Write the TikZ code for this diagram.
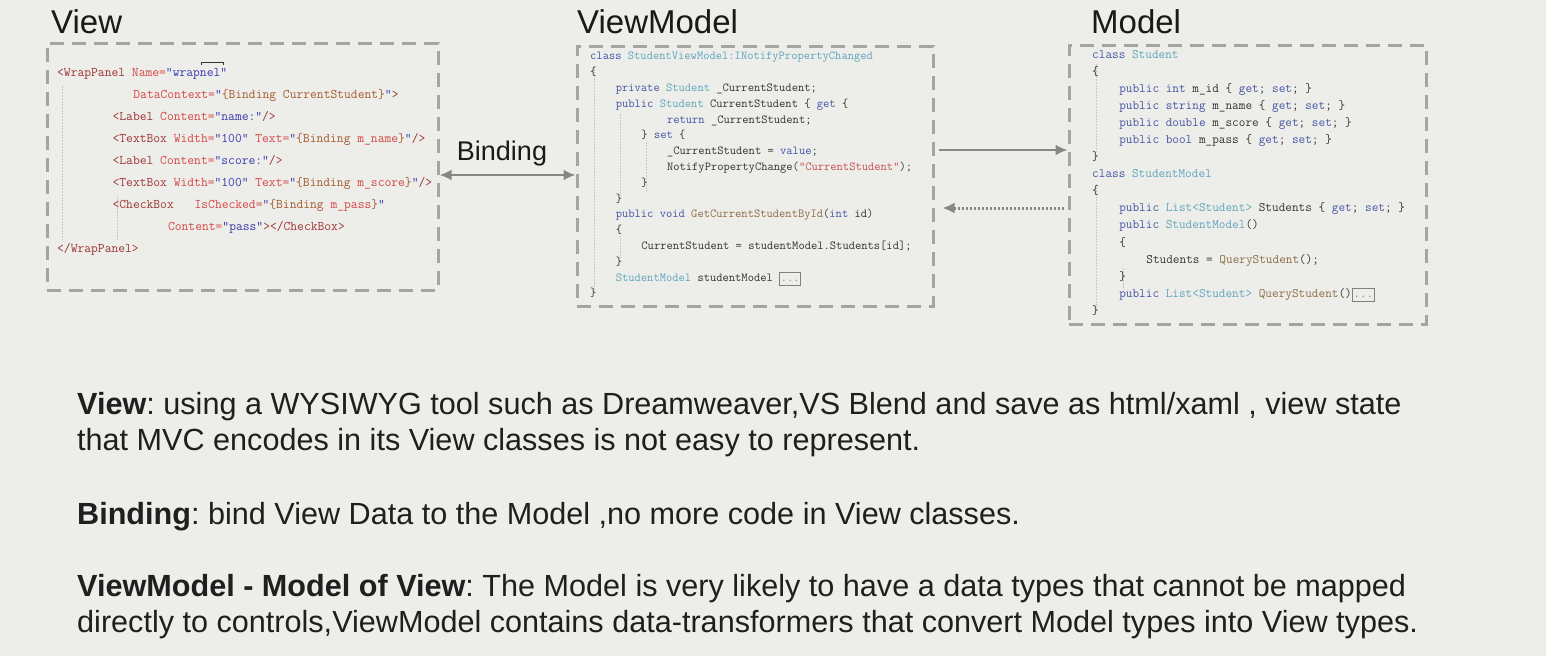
\documentclass[tikz,border=0pt]{standalone}
\usepackage{fontspec}
\setmainfont{Liberation Sans}
\usetikzlibrary{arrows.meta,positioning,calc}
\definecolor{slidebg}{HTML}{EDEDE9}
\definecolor{boxgray}{HTML}{A4A4A4}
\definecolor{arrowgray}{HTML}{878787}
\definecolor{codedark}{HTML}{333333}
\definecolor{cskw}{HTML}{4655A6}
\definecolor{csty}{HTML}{5FA6BD}
\definecolor{csstr}{HTML}{C55050}
\definecolor{csfn}{HTML}{8C6D45}
\definecolor{xmtag}{HTML}{9E3434}
\definecolor{xmattr}{HTML}{D64545}
\definecolor{xmval}{HTML}{3A3AB0}
\definecolor{xmext}{HTML}{A65A30}
\newcommand\ind[1]{\hspace*{#1\dimexpr0.525em\relax}}
\newcommand\ckw[1]{\textcolor{cskw}{#1}}
\newcommand\cty[1]{\textcolor{csty}{#1}}
\newcommand\cstr[1]{\textcolor{csstr}{#1}}
\newcommand\cfn[1]{\textcolor{csfn}{#1}}
\newcommand\xtag[1]{\textcolor{xmtag}{#1}}
\newcommand\xattr[1]{\textcolor{xmattr}{#1}}
\newcommand\xval[1]{\textcolor{xmval}{#1}}
\newcommand\xext[1]{\textcolor{xmext}{#1}}
\newcommand\morebox{{\fboxsep=0.8pt\fboxrule=0.8pt\color{black!50}\fbox{\vphantom{Ay}...}}}
\tikzset{
  codebox/.style={draw=boxgray, line width=3pt, dash pattern=on 14pt off 8pt, inner sep=0pt},
  codetext/.style={anchor=north west, inner sep=0pt, align=left, text=codedark},
  title/.style={anchor=base west, inner sep=0pt, font=\fontsize{33}{40}\selectfont, text=black!90},
  note/.style={anchor=base west, inner sep=0pt, font=\fontsize{30.6}{36}\selectfont\frenchspacing, text=black!88},
  bindlabel/.style={anchor=base, inner sep=0pt, font=\fontsize{27}{32}\selectfont, text=black!90},
  arrow/.style={line width=2.5pt, draw=arrowgray, -{Latex[length=12pt,width=11pt]}},
  biarrow/.style={arrow, {Latex[length=12pt,width=11pt]}-{Latex[length=12pt,width=11pt]}},
  dotarrow/.style={arrow, line width=3pt, dash pattern=on 2pt off 2pt},
  guide/.style={draw=black!22, line width=0.8pt, dash pattern=on 1.5pt off 1.5pt}
}

\begin{document}
\begin{tikzpicture}[x=1pt, y=-1pt]
  \useasboundingbox (0,0) rectangle (1546,656);
  \fill[slidebg] (0,0) rectangle (1546,656);

  % titles
  \node[title] (viewtitle) at (51,33) {View};
  \node[title] (vmtitle) at (577,33) {ViewModel};
  \node[title] (mtitle) at (1091,33) {Model};

  % dashed code boxes
  \node[codebox, minimum width=391pt, minimum height=247pt] (viewbox) at (242.5,166.5) {};
  \node[codebox, minimum width=356pt, minimum height=260pt] (vmbox) at (755,176) {};
  \node[codebox, minimum width=357pt, minimum height=279pt] (mbox) at (1247.5,184.5) {};

  % indent guides
  \draw[guide] (62,86) -- (62,240);
  \draw[guide] (117,196) -- (117,240);
  \draw[guide] (594,66) -- (594,290);
  \draw[guide] (620,114) -- (620,196);
  \draw[guide] (646,142) -- (646,192);
  \draw[guide] (620,236) -- (620,258);
  \draw[guide] (1096,64) -- (1096,152);
  \draw[guide] (1096,184) -- (1096,308);
  \draw[guide] (1123,268) -- (1123,290);
  \draw[codedark, line width=0.8pt] (201,65) -- (201,62) -- (223,62) -- (223,65);

  % code
  \node[codetext, font=\ttfamily\fontsize{13.2}{22}\selectfont\frenchspacing] (viewcode) at (57,68) {%
\xtag{<WrapPanel} \xattr{Name=}\xval{"wrapnel"}\\
\ind{11}\xattr{DataContext=}\xval{"}\xext{\{Binding CurrentStudent\}}\xval{"}\xtag{>}\\
\ind{8}\xtag{<Label} \xattr{Content=}\xval{"name:"}\xtag{/>}\\
\ind{8}\xtag{<TextBox} \xattr{Width=}\xval{"100"} \xattr{Text=}\xval{"}\xext{\{Binding} \xattr{m\_name}\xext{\}}\xval{"}\xtag{/>}\\
\ind{8}\xtag{<Label} \xattr{Content=}\xval{"score:"}\xtag{/>}\\
\ind{8}\xtag{<TextBox} \xattr{Width=}\xval{"100"} \xattr{Text=}\xval{"}\xext{\{Binding} \xattr{m\_score}\xext{\}}\xval{"}\xtag{/>}\\
\ind{8}\xtag{<CheckBox}\ind{3}\xattr{IsChecked=}\xval{"}\xext{\{Binding} \xattr{m\_pass}\xext{\}}\xval{"}\\
\ind{16}\xattr{Content=}\xval{"pass"}\xtag{></CheckBox>}\\
\xtag{</WrapPanel>}};

  \node[codetext, font=\ttfamily\fontsize{12.2}{15.8}\selectfont\frenchspacing] (vmcode) at (590,52) {%
\ckw{class} \cty{StudentViewModel:INotifyPropertyChanged}\\
\{\\
\ind{4}\ckw{private} \cty{Student} \_CurrentStudent;\\
\ind{4}\ckw{public} \cty{Student} CurrentStudent \{ \ckw{get} \{\\
\ind{12}\ckw{return} \_CurrentStudent;\\
\ind{8}\} \ckw{set} \{\\
\ind{12}\_CurrentStudent = \ckw{value};\\
\ind{12}NotifyPropertyChange(\cstr{"CurrentStudent"});\\
\ind{8}\}\\
\ind{4}\}\\
\ind{4}\ckw{public void} \cfn{GetCurrentStudentById}(\ckw{int} id)\\
\ind{4}\{\\
\ind{8}CurrentStudent = studentModel.Students[id];\\
\ind{4}\}\\
\ind{4}\cty{StudentModel} studentModel \morebox\\
\}};

  \node[codetext, font=\ttfamily\fontsize{12.9}{17.07}\selectfont\frenchspacing] (mcode) at (1092,50) {%
\ckw{class} \cty{Student}\\
\{\\
\ind{4}\ckw{public int} m\_id \{ \ckw{get}; \ckw{set}; \}\\
\ind{4}\ckw{public string} m\_name \{ \ckw{get}; \ckw{set}; \}\\
\ind{4}\ckw{public double} m\_score \{ \ckw{get}; \ckw{set}; \}\\
\ind{4}\ckw{public bool} m\_pass \{ \ckw{get}; \ckw{set}; \}\\
\}\\
\ckw{class} \cty{StudentModel}\\
\{\\
\ind{4}\ckw{public} \cty{List<Student>} Students \{ \ckw{get}; \ckw{set}; \}\\
\ind{4}\ckw{public} \cty{StudentModel}()\\
\ind{4}\{\\
\ind{8}Students = \cfn{QueryStudent}();\\
\ind{4}\}\\
\ind{4}\ckw{public} \cty{List<Student>} \cfn{QueryStudent}()\morebox\\
\}};

  % connectors
  \coordinate (bindrow) at (0,175);
  \coordinate (setrow) at (0,150);
  \coordinate (notifyrow) at (0,208);
  \node[bindlabel] (bindlbl) at (502,160) {Binding};
  \draw[biarrow] (viewbox.east |- bindrow) -- (vmbox.west |- bindrow);
  \draw[arrow, shorten <=4pt] (vmbox.east |- setrow) -- (mbox.west |- setrow);
  \draw[dotarrow, shorten <=4pt, shorten >=8pt] (mbox.west |- notifyrow) -- (vmbox.east |- notifyrow);

  % notes
  \node[note] (viewnote1) at (77,414) {\textbf{View}: using a WYSIWYG tool such as Dreamweaver,VS Blend and save as html/xaml , view state};
  \node[note] (viewnote2) at (77,450) {that MVC encodes in its View classes is not easy to represent.};
  \node[note] (bindnote) at (77,524) {\textbf{Binding}: bind View Data to the Model ,no more code in View classes.};
  \node[note] (vmnote1) at (77,596) {\textbf{ViewModel - Model of View}: The Model is very likely to have a data types that cannot be mapped};
  \node[note] (vmnote2) at (77,632) {directly to controls,ViewModel contains data-transformers that convert Model types into View types.};
\end{tikzpicture}
\end{document}
